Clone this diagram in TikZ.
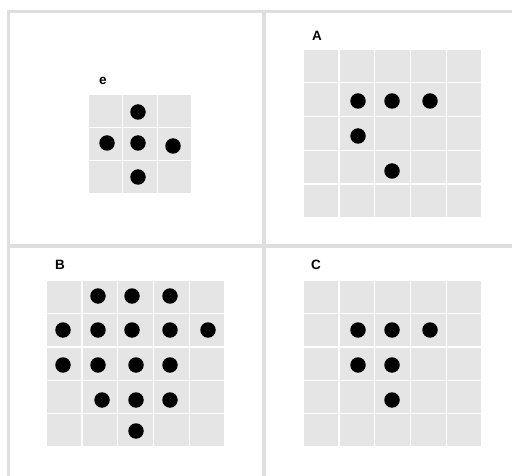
\documentclass[tikz,border=0pt]{standalone}
\usepackage{fontspec}
\setmainfont{Liberation Sans}
\begin{document}
\begin{tikzpicture}[x=1pt,y=-1pt,
  frame/.style={draw=black!13,line width=3.5pt},
  cell/.style={fill=black!10,draw=white,line width=1.4pt},
  dot/.style={circle,fill=black,minimum size=15.5pt,inner sep=0pt},
  lbl/.style={font=\bfseries\fontsize{13.5}{13.5}\selectfont,inner sep=0pt}]
\useasboundingbox (0,0) rectangle (512,476);
\fill[white] (0,0) rectangle (512,476);
% frame
\draw[frame] (8.5,476) -- (8.5,11.5) -- (512,11.5);
\draw[frame] (264,11.5) -- (264,476);
\draw[frame] (8.5,246) -- (512,246);
% grid e
\foreach \i in {0,1,2}{\foreach \j in {0,1,2}{
  \path[cell] (88+\i*34.7,94+\j*33.3) rectangle ++(34.7,33.3);}}
% grid A
\foreach \i in {0,...,4}{\foreach \j in {0,...,4}{
  \path[cell] (303+\i*35.8,49+\j*33.8) rectangle ++(35.8,33.8);}}
% grid B
\foreach \i in {0,...,4}{\foreach \j in {0,...,4}{
  \path[cell] (46+\i*35.8,280+\j*33.4) rectangle ++(35.8,33.4);}}
% grid C
\foreach \i in {0,...,4}{\foreach \j in {0,...,4}{
  \path[cell] (303+\i*35.8,280+\j*33.4) rectangle ++(35.8,33.4);}}
% labels
\node[lbl] (le) at (103,80.5) {e};
\node[lbl] (lA) at (317,36) {A};
\node[lbl] (lB) at (60,265) {B};
\node[lbl] (lC) at (316,265) {C};
% dots e
\node[dot] (e1) at (138,112) {};
\node[dot] (e2) at (107,143) {};
\node[dot] (e3) at (138,143) {};
\node[dot] (e4) at (173,146) {};
\node[dot] (e5) at (138,177) {};
% dots A
\node[dot] (a1) at (358,101) {};
\node[dot] (a2) at (392,101) {};
\node[dot] (a3) at (430,101) {};
\node[dot] (a4) at (358,136) {};
\node[dot] (a5) at (392,171) {};
% dots B
\node[dot] (b1) at (98,296) {};
\node[dot] (b2) at (132,296) {};
\node[dot] (b3) at (170,296) {};
\node[dot] (b4) at (63,330) {};
\node[dot] (b5) at (98,330) {};
\node[dot] (b6) at (132,330) {};
\node[dot] (b7) at (170,330) {};
\node[dot] (b8) at (208,330) {};
\node[dot] (b9) at (63,365) {};
\node[dot] (b10) at (98,365) {};
\node[dot] (b11) at (136,365) {};
\node[dot] (b12) at (170,365) {};
\node[dot] (b13) at (102,400) {};
\node[dot] (b14) at (136,400) {};
\node[dot] (b15) at (170,400) {};
\node[dot] (b16) at (136,431) {};
% dots C
\node[dot] (c1) at (358,330) {};
\node[dot] (c2) at (392,330) {};
\node[dot] (c3) at (430,330) {};
\node[dot] (c4) at (358,365) {};
\node[dot] (c5) at (392,365) {};
\node[dot] (c6) at (392,400) {};
\end{tikzpicture}
\end{document}
